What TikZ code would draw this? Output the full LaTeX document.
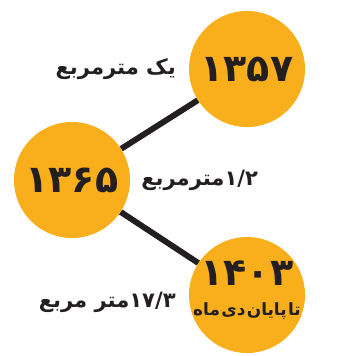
\documentclass[tikz,border=0pt]{standalone}
\usepackage{fontspec}
\usepackage{xcolor}
\usepackage{tikz}
\usetikzlibrary{positioning}
\TeXXeTstate=1
\newfontfamily\arabicfont[Script=Arabic]{DejaVu Sans}
\definecolor{sunorange}{RGB}{249, 174, 27}
\definecolor{inkblack}{RGB}{35, 31, 32}

\begin{document}
\begin{tikzpicture}[x=0.025cm,y=-0.025cm,
    yearcircle/.style={circle,fill=sunorange,minimum size=2.9cm,inner sep=0pt},
    areatext/.style={inkblack,font=\arabicfont\bfseries\fontsize{15}{18}\selectfont},
    yeartext/.style={inkblack,font=\arabicfont\bfseries\fontsize{27}{30}\selectfont}]
    \useasboundingbox (0,0) rectangle (340,356);

    % Year circles
    \node[yearcircle] (y57) at (247,69) {};
    \node[yearcircle] (y65) at (72,180) {};
    \node[yearcircle] (y03) at (247,295) {};
    \node[yeartext] (n57) at (y57) {۱۳۵۷};
    \node[yeartext] (n65) at (y65) {۱۳۶۵};
    \node[yeartext] (n03) at ([yshift=0.55cm]y03.center) {۱۴۰۳};
    \node[inkblack,font=\arabicfont\bfseries\fontsize{12}{14}\selectfont] (d03) at ([yshift=-0.4cm]y03.center)
        {\spaceskip=1pt\beginR تا پایان دی ماه\endR};

    % Connectors
    \draw[inkblack,line width=4.2pt] (y65) -- (y57);
    \draw[inkblack,line width=4.2pt] (y65) -- (y03);

    % Area per person
    \node[areatext,left=0.2cm of y57] (a57) {\beginR یک مترمربع\endR};
    \node[areatext,right=0.15cm of y65] (a65) {\beginR\beginL ۱/۲\endL{}مترمربع\endR};
    \node[areatext,left=0.2cm of y03,yshift=-0.18cm] (a03) {\beginR\beginL ۱۷/۳\endL{}متر مربع\endR};
\end{tikzpicture}
\end{document}
